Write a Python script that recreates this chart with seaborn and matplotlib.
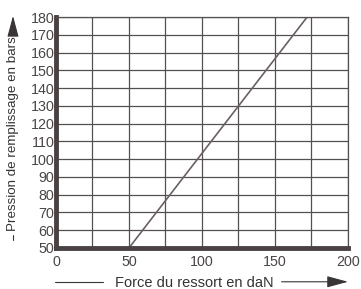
import numpy as np
import pandas as pd
import matplotlib
matplotlib.use("Agg")
import matplotlib.pyplot as plt
import seaborn as sns

# données
force = [50, 172]
pression = [50, 180]
x_ticks = [0, 50, 100, 150, 200]
y_ticks = list(range(50, 181, 10))

df = pd.DataFrame({"force": force, "pression": pression})

sns.set_style("white")
plt.rcParams['font.family'] = ['Liberation Sans', 'DejaVu Sans']

fig = plt.figure(figsize=(3.61, 2.89), dpi=100)
ax = fig.add_axes([0.155, 0.142, 0.809, 0.799])

sns.lineplot(x="force", y="pression", data=df, ax=ax, color="#6b6060", linewidth=1.2)

ax.set_xlim(0, 200)
ax.set_ylim(50, 180)
ax.set_xticks(np.arange(0, 201, 25))
ax.set_xticklabels([str(t) if t in x_ticks else "" for t in range(0, 201, 25)])
ax.set_yticks(y_ticks)
ax.grid(True, color="#555050", linewidth=0.9)
ax.set_axisbelow(True)
ax.tick_params(length=0, labelsize=10.3, labelcolor="#4a4545")
ax.tick_params(axis="x", pad=5)
ax.tick_params(axis="y", pad=1)
ax.set_xlabel("")
ax.set_ylabel("")

for s in ["top", "right"]:
    ax.spines[s].set_color("#555050")
    ax.spines[s].set_linewidth(0.9)
for s in ["left", "bottom"]:
    ax.spines[s].set_color("#4a4242")
    ax.spines[s].set_linewidth(3.5)

# titres des axes avec flèches
grey = "#3a3535"
fig.text(0.537, 0.022, "Force du ressort en daN", ha="center", va="center",
         fontsize=10.5, color="#333")
fig.add_artist(plt.Line2D([0.152, 0.285], [0.025, 0.025], color=grey, lw=0.8))
ax.annotate("", xy=(0.964, 0.025), xytext=(0.78, 0.025), xycoords="figure fraction",
            arrowprops=dict(arrowstyle="-|>,head_length=1.3,head_width=0.35",
                            color=grey, lw=0.8, shrinkA=0, shrinkB=0))
fig.text(0.036, 0.538, "Pression de remplissage en bars", ha="center", va="center",
         rotation=90, fontsize=9.6, color="#333")
fig.add_artist(plt.Line2D([0.036, 0.036], [0.168, 0.188], color=grey, lw=0.8))
ax.annotate("", xy=(0.036, 0.945), xytext=(0.036, 0.885), xycoords="figure fraction",
            arrowprops=dict(arrowstyle="-|>,head_length=1.3,head_width=0.35",
                            color=grey, lw=0.8, shrinkA=0, shrinkB=0))

plt.savefig("out.png", dpi=100)
